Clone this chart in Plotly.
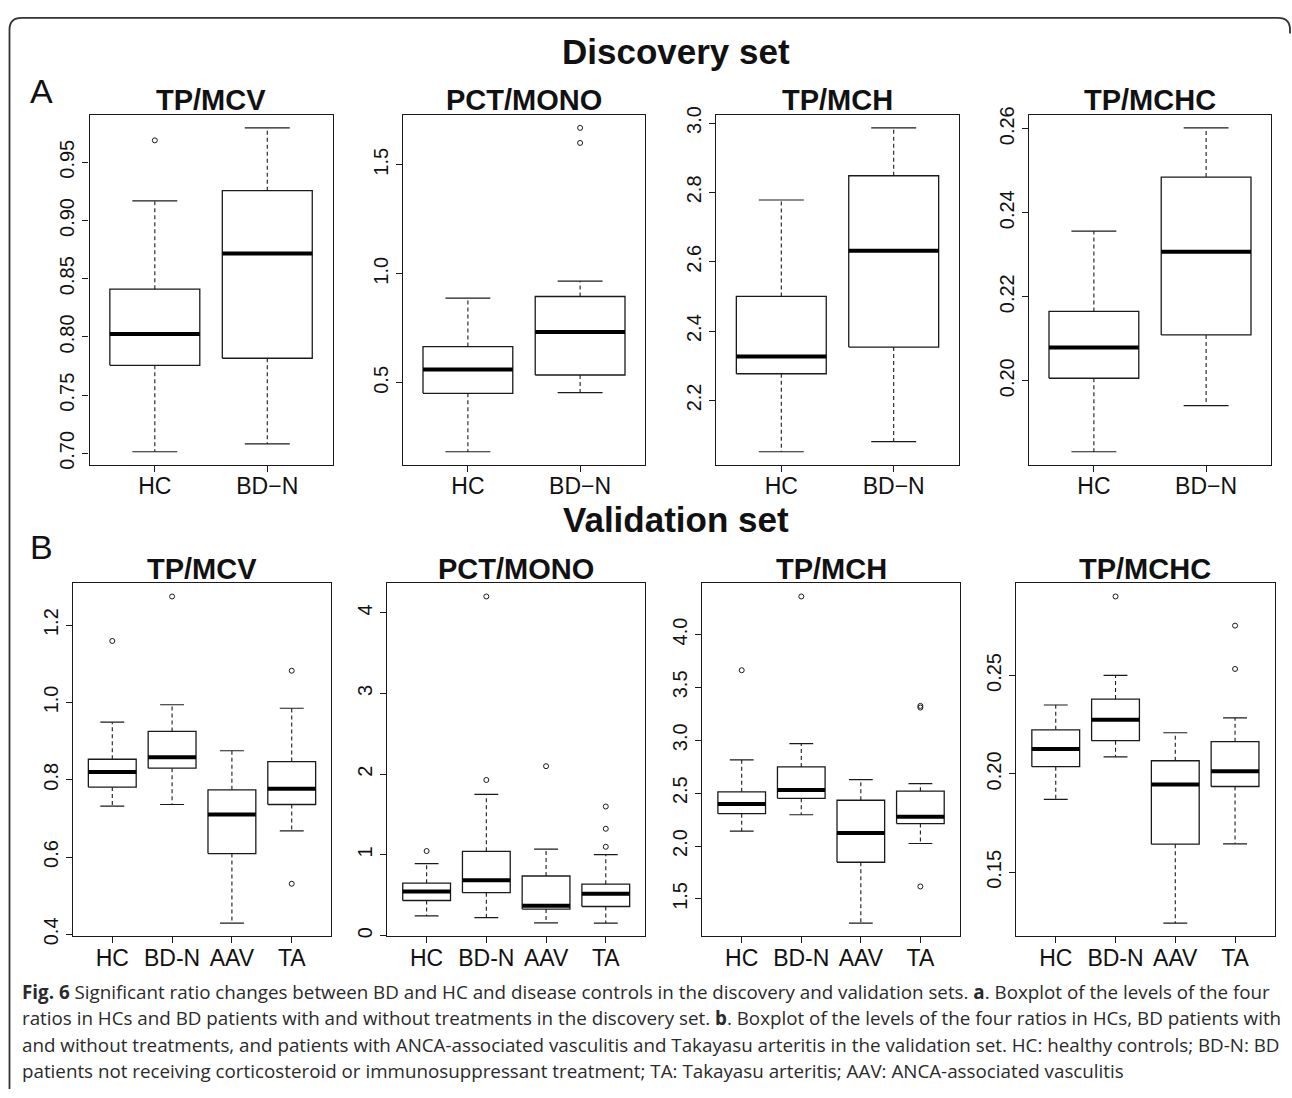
import plotly.graph_objects as go

W, H = 1292, 1098

disc_groups = ["HC", "BD−N"]
val_groups = ["HC", "BD-N", "AAV", "TA"]
panel_titles = ["TP/MCV", "PCT/MONO", "TP/MCH", "TP/MCHC"]

# ---------------- Discovery set (box statistics) -------------
d_mcv_lo = [0.7014, 0.7081]
d_mcv_q1 = [0.7756, 0.7817]
d_mcv_med = [0.8025, 0.8716]
d_mcv_q3 = [0.8410, 0.9256]
d_mcv_hi = [0.9169, 0.9795]
d_mcv_out = [[0.9688], []]

d_pct_lo = [0.184, 0.455]
d_pct_q1 = [0.452, 0.536]
d_pct_med = [0.5615, 0.733]
d_pct_q3 = [0.6664, 0.8958]
d_pct_hi = [0.8883, 0.9663]
d_pct_out = [[], [1.600, 1.669]]

d_mch_lo = [2.052, 2.081]
d_mch_q1 = [2.277, 2.354]
d_mch_med = [2.327, 2.632]
d_mch_q3 = [2.500, 2.848]
d_mch_hi = [2.778, 2.986]
d_mch_out = [[], []]

d_mchc_lo = [0.1831, 0.1941]
d_mchc_q1 = [0.2006, 0.2109]
d_mchc_med = [0.2079, 0.2307]
d_mchc_q3 = [0.2165, 0.2485]
d_mchc_hi = [0.2356, 0.2602]
d_mchc_out = [[], []]

# ---------------- Validation set -------------
v_mcv_lo = [0.732, 0.736, 0.429, 0.668]
v_mcv_q1 = [0.781, 0.830, 0.609, 0.736]
v_mcv_med = [0.820, 0.858, 0.710, 0.777]
v_mcv_q3 = [0.853, 0.925, 0.774, 0.847]
v_mcv_hi = [0.949, 0.994, 0.875, 0.985]
v_mcv_out = [[1.159], [1.274], [], [1.082, 0.531]]

v_pct_lo = [0.244, 0.223, 0.158, 0.154]
v_pct_q1 = [0.435, 0.532, 0.329, 0.361]
v_pct_med = [0.548, 0.686, 0.370, 0.520]
v_pct_q3 = [0.650, 1.044, 0.739, 0.638]
v_pct_hi = [0.893, 1.750, 1.072, 1.003]
v_pct_out = [[1.048], [1.929, 4.203], [2.100], [1.101, 1.324, 1.600]]

v_mch_lo = [2.141, 2.296, 1.271, 2.024]
v_mch_q1 = [2.306, 2.451, 1.847, 2.213]
v_mch_med = [2.398, 2.529, 2.123, 2.278]
v_mch_q3 = [2.513, 2.748, 2.433, 2.519]
v_mch_hi = [2.814, 2.968, 2.628, 2.591]
v_mch_out = [[3.662], [4.359], [], [3.325, 3.309, 1.618]]

v_mchc_lo = [0.1871, 0.2087, 0.1242, 0.1645]
v_mchc_q1 = [0.2037, 0.2169, 0.1643, 0.1936]
v_mchc_med = [0.2126, 0.2275, 0.1946, 0.2013]
v_mchc_q3 = [0.2224, 0.2380, 0.2067, 0.2164]
v_mchc_hi = [0.2350, 0.2500, 0.2209, 0.2285]
v_mchc_out = [[], [0.2901], [], [0.2533, 0.2753]]

# y tick labels per panel
d_ticks = [
    ["0.70", "0.75", "0.80", "0.85", "0.90", "0.95"],
    ["0.5", "1.0", "1.5"],
    ["2.2", "2.4", "2.6", "2.8", "3.0"],
    ["0.20", "0.22", "0.24", "0.26"],
]
v_ticks = [
    ["0.4", "0.6", "0.8", "1.0", "1.2"],
    ["0", "1", "2", "3", "4"],
    ["1.5", "2.0", "2.5", "3.0", "3.5", "4.0"],
    ["0.15", "0.20", "0.25"],
]

caption_lines = [
    "<b>Fig. 6</b> Significant ratio changes between BD and HC and disease controls in the discovery and validation sets. <b>a</b>. Boxplot of the levels of the four",
    "ratios in HCs and BD patients with and without treatments in the discovery set. <b>b</b>. Boxplot of the levels of the four ratios in HCs, BD patients with",
    "and without treatments, and patients with ANCA-associated vasculitis and Takayasu arteritis in the validation set. HC: healthy controls; BD-N: BD",
    "patients not receiving corticosteroid or immunosuppressant treatment; TA: Takayasu arteritis; AAV: ANCA-associated vasculitis",
]

panels = [
    (disc_groups, d_mcv_lo, d_mcv_q1, d_mcv_med, d_mcv_q3, d_mcv_hi, d_mcv_out, d_ticks[0]),
    (disc_groups, d_pct_lo, d_pct_q1, d_pct_med, d_pct_q3, d_pct_hi, d_pct_out, d_ticks[1]),
    (disc_groups, d_mch_lo, d_mch_q1, d_mch_med, d_mch_q3, d_mch_hi, d_mch_out, d_ticks[2]),
    (disc_groups, d_mchc_lo, d_mchc_q1, d_mchc_med, d_mchc_q3, d_mchc_hi, d_mchc_out, d_ticks[3]),
    (val_groups, v_mcv_lo, v_mcv_q1, v_mcv_med, v_mcv_q3, v_mcv_hi, v_mcv_out, v_ticks[0]),
    (val_groups, v_pct_lo, v_pct_q1, v_pct_med, v_pct_q3, v_pct_hi, v_pct_out, v_ticks[1]),
    (val_groups, v_mch_lo, v_mch_q1, v_mch_med, v_mch_q3, v_mch_hi, v_mch_out, v_ticks[2]),
    (val_groups, v_mchc_lo, v_mchc_q1, v_mchc_med, v_mchc_q3, v_mchc_hi, v_mchc_out, v_ticks[3]),
]

# layout geometry in pixels
disc_x = [(89.6, 332.5), (402.8, 645.2), (716.1, 958.9), (1028.8, 1271.2)]
disc_y = (107.7, 463.3)
val_x = [(72.8, 331.2), (387.2, 645.2), (702.4, 959.7), (1016.3, 1274.5)]
val_y = (584.0, 942.7)

FONT = "Liberation Sans, Arial, Helvetica, sans-serif"
CAPFONT = "Open Sans, Noto Sans, Liberation Sans, sans-serif"
LINE = "#1a1a1a"

fig = go.Figure()
layout = dict(
    width=W, height=H, margin=dict(l=0, r=0, t=0, b=0),
    paper_bgcolor="white", plot_bgcolor="white", showlegend=False,
    font=dict(family=FONT, color="black"),
)
annotations = []

for k, (groups, lo, q1, med, q3, hi, out, ticks) in enumerate(panels):
    idx = k + 1
    xa = "x" if idx == 1 else f"x{idx}"
    ya = "y" if idx == 1 else f"y{idx}"
    n = len(groups)
    bw = 0.4
    sw = 0.2
    bx, by, mx, my, wx, wy, sx, sy, ox, oy = [], [], [], [], [], [], [], [], [], []
    for i in range(n):
        c = i + 1
        bx += [c - bw, c + bw, c + bw, c - bw, c - bw, None]
        by += [q1[i], q1[i], q3[i], q3[i], q1[i], None]
        mx += [c - bw, c + bw, None]
        my += [med[i], med[i], None]
        wx += [c, c, None, c, c, None]
        wy += [q1[i], lo[i], None, q3[i], hi[i], None]
        sx += [c - sw, c + sw, None, c - sw, c + sw, None]
        sy += [lo[i], lo[i], None, hi[i], hi[i], None]
        for v in out[i]:
            ox.append(c)
            oy.append(v)
    common = dict(xaxis=xa, yaxis=ya, hoverinfo="skip", showlegend=False)
    fig.add_trace(go.Scatter(x=wx, y=wy, mode="lines",
                             line=dict(color=LINE, width=1.1, dash="4px,3px"), **common))
    fig.add_trace(go.Scatter(x=sx, y=sy, mode="lines",
                             line=dict(color=LINE, width=1.2), **common))
    fig.add_trace(go.Scatter(x=bx, y=by, mode="lines",
                             line=dict(color=LINE, width=1.3), **common))
    fig.add_trace(go.Scatter(x=mx, y=my, mode="lines",
                             line=dict(color="black", width=4), **common))
    if ox:
        fig.add_trace(go.Scatter(x=ox, y=oy, mode="markers",
                                 marker=dict(symbol="circle-open", size=5, color=LINE,
                                             line=dict(width=1)), **common))

    # R-style axis limits: extend data range by 4%
    allv = lo + hi + [v for o in out for v in o]
    dmin, dmax = min(allv), max(allv)
    pad = (dmax - dmin) * 0.04
    yr = [dmin - pad, dmax + pad]
    xr = [0.5 - n * 0.04, n + 0.5 + n * 0.04]

    if k < 4:
        px0, px1 = disc_x[k]
        py0, py1 = disc_y
    else:
        px0, px1 = val_x[k - 4]
        py0, py1 = val_y
    xdom = [px0 / W, px1 / W]
    ydom = [1 - py1 / H, 1 - py0 / H]

    axcommon = dict(showline=True, mirror=True, linecolor=LINE, linewidth=1.3,
                    showgrid=False, zeroline=False, ticks="outside", ticklen=6,
                    tickcolor=LINE, tickwidth=1.2)
    layout["xaxis" if idx == 1 else f"xaxis{idx}"] = dict(
        domain=xdom, range=xr, anchor=ya, tickmode="array",
        tickvals=list(range(1, n + 1)), ticktext=groups, ticklabelstandoff=-5,
        tickfont=dict(size=23, family=FONT, color="#111"), **axcommon)
    layout["yaxis" if idx == 1 else f"yaxis{idx}"] = dict(
        domain=ydom, range=yr, anchor=xa, tickmode="array",
        tickvals=[float(t) for t in ticks], ticktext=ticks, tickangle=-90,
        tickfont=dict(size=20, family=FONT, color="#111"), **axcommon)

    title_y = 93 if k < 4 else 569
    annotations.append(dict(text=f"<b>{panel_titles[k % 4]}</b>", xref=f"{xa} domain",
                            x=0.5, yref="paper", y=1 - title_y / H, xanchor="center",
                            yanchor="middle", showarrow=False,
                            font=dict(size=29, family=FONT, color="#111")))

# section headers
for txt, yy in [("Discovery set", 43), ("Validation set", 519)]:
    annotations.append(dict(text=f"<b>{txt}</b>", xref="paper", yref="paper",
                            x=676 / W, y=1 - yy / H, xanchor="center", yanchor="middle",
                            showarrow=False, font=dict(size=35, family=FONT, color="#111")))
for txt, yy in [("A", 83), ("B", 547)]:
    annotations.append(dict(text=txt, xref="paper", yref="paper", x=41 / W, y=1 - yy / H,
                            xanchor="center", yanchor="middle", showarrow=False,
                            font=dict(size=34, family=FONT, color="#111")))

# caption
cap_y = [999, 1026, 1053, 1080]
for line, yy in zip(caption_lines, cap_y):
    annotations.append(dict(text=line, xref="paper", yref="paper", x=20 / W, y=1 - yy / H,
                            xanchor="left", yanchor="middle", showarrow=False,
                            font=dict(size=18.8, family=CAPFONT, color="#2a2a2a")))

layout["annotations"] = annotations

# outer frame: left and top edges with rounded top corners (open on the right / bottom)
def X(p):
    return p / W

def Y(p):
    return 1 - p / H

x0, x1, y0, yb, r = 9.5, 1290, 9.0, 1098, 12
path = (f"M {X(x0)},{Y(yb)} L {X(x0)},{Y(y0 + r)} Q {X(x0)},{Y(y0)} {X(x0 + r)},{Y(y0)} "
        f"L {X(x1 - r)},{Y(y0)} Q {X(x1)},{Y(y0)} {X(x1)},{Y(y0 + r)} L {X(x1)},{Y(y0 + r + 4)}")
layout["shapes"] = [dict(type="path", xref="paper", yref="paper", path=path,
                         line=dict(color="#333", width=1.8))]

fig.update_layout(**layout)
fig.write_html("out.html", config={"displayModeBar": False},
               post_script="document.body.style.margin='0';document.body.style.overflow='hidden';")
